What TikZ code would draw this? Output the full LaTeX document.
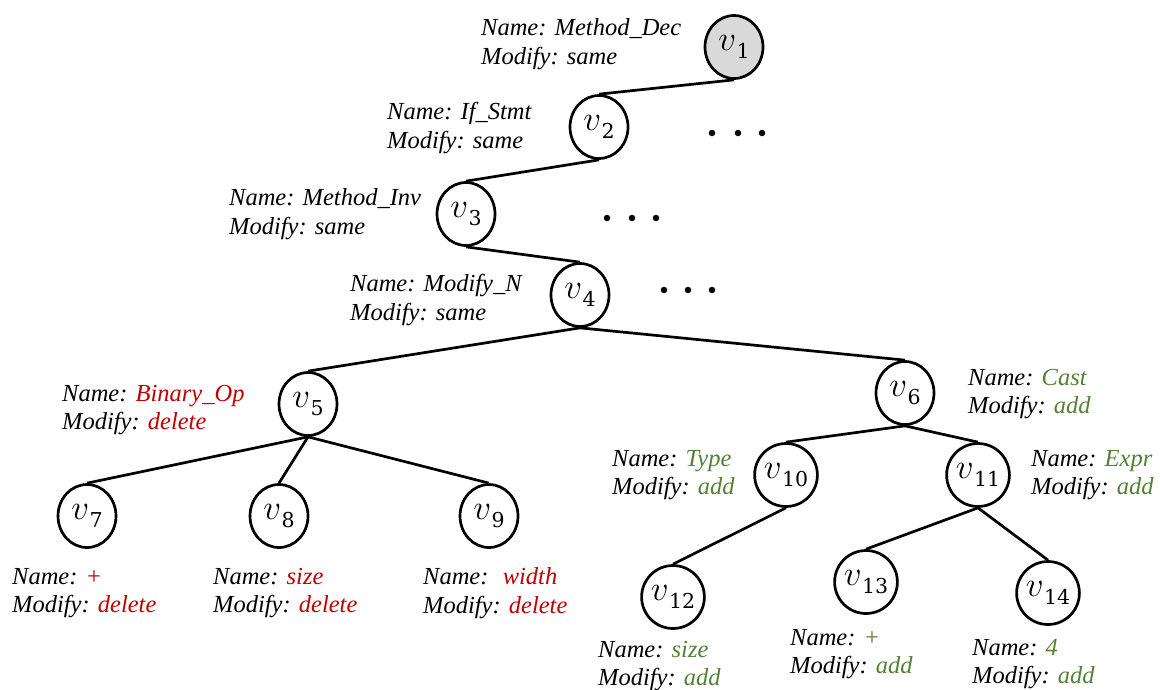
\RequirePackage{fix-cm}
\documentclass[tikz,border=0pt]{standalone}
\usepackage{fontspec}
\usetikzlibrary{shapes.geometric}
\setmainfont{Liberation Serif}
\newfontfamily\subfont{DejaVu Serif}
\definecolor{delred}{HTML}{C00000}
\definecolor{addgreen}{HTML}{538135}
\definecolor{rootgray}{HTML}{D9D9D9}
\newcommand{\dl}[1]{\textcolor{delred}{#1}}
\newcommand{\ad}[1]{\textcolor{addgreen}{#1}}
% vertex name: italic v with a lowered index
\newcommand{\vname}[1]{$v$\kern0.5pt\raisebox{-7.5pt}{\fontsize{20.5}{20.5}\selectfont\subfont #1}}
\tikzset{
  vnode/.style={ellipse, draw, line width=2.7pt, minimum width=58pt, minimum height=63pt,
                inner sep=0pt, font=\fontsize{35}{37}\selectfont},
  treeedge/.style={line width=2.7pt},
  lbl/.style={anchor=west, align=left, inner sep=0pt,
              font=\fontsize{24.5}{28.5}\selectfont\itshape},
  dotmark/.style={circle, fill, inner sep=0pt, minimum size=6.5pt}
}
\begin{document}
\begin{tikzpicture}[x=1pt,y=-1pt]
\useasboundingbox (0,0) rectangle (1160,689);

% tree nodes
\node[vnode, fill=rootgray] (v1) at (734,47) {\vname{1}};
\node[vnode] (v2) at (599,127) {\vname{2}};
\node[vnode] (v3) at (466,214) {\vname{3}};
\node[vnode] (v4) at (580,295) {\vname{4}};
\node[vnode] (v5) at (308,404) {\vname{5}};
\node[vnode] (v6) at (905,393) {\vname{6}};
\node[vnode] (v7) at (87,516) {\vname{7}};
\node[vnode] (v8) at (279,516) {\vname{8}};
\node[vnode] (v9) at (489,516) {\vname{9}};
\node[vnode] (v10) at (786,475) {\vname{10}};
\node[vnode] (v11) at (978,475) {\vname{11}};
\node[vnode] (v12) at (673,597) {\vname{12}};
\node[vnode] (v13) at (866,582) {\vname{13}};
\node[vnode] (v14) at (1048,593) {\vname{14}};

% edges
\draw[treeedge] (v1.south) -- (v2.north);
\draw[treeedge] (v2.south) -- (v3.north);
\draw[treeedge] (v3.south) -- (v4.north);
\draw[treeedge] (v4.south) -- (v5.north);
\draw[treeedge] (v4.south) -- (v6.north);
\draw[treeedge] (v5.south) -- (v7.north);
\draw[treeedge] (v5.south) -- (v8.north);
\draw[treeedge] (v5.south) -- (v9.north);
\draw[treeedge] (v6.south) -- (v10.north);
\draw[treeedge] (v6.south) -- (v11.north);
\draw[treeedge] (v10.south) -- (v12.north);
\draw[treeedge] (v11.south) -- (v13.north);
\draw[treeedge] (v11.south) -- (v14.north);

% elided siblings
\foreach \x [count=\i] in {712,738,762} \node[dotmark] (da\i) at (\x,133) {};
\foreach \x [count=\i] in {607,632,656} \node[dotmark] (db\i) at (\x,218) {};
\foreach \x [count=\i] in {664,688,712} \node[dotmark] (dc\i) at (\x,290) {};

% node attributes
\node[lbl] (l1) at (481,44) {Name: Method\_Dec\\Modify: same};
\node[lbl] (l2) at (387,128) {Name: If\_Stmt\\Modify: same};
\node[lbl] (l3) at (229,214) {Name: Method\_Inv\\Modify: same};
\node[lbl] (l4) at (350,300) {Name: Modify\_N\\Modify: same};
\node[lbl] (l5) at (62,410) {Name: \dl{Binary\_Op}\\Modify: \dl{delete}};
\node[lbl] (l6) at (968,394) {Name: \ad{Cast}\\Modify: \ad{add}};
\node[lbl] (l7) at (12,593) {Name: \dl{+}\\Modify: \dl{delete}};
\node[lbl] (l8) at (213,593) {Name: \dl{size}\\Modify: \dl{delete}};
\node[lbl] (l9) at (423,593) {Name: \ \dl{width}\\Modify: \dl{delete}};
\node[lbl] (l10) at (612,475) {Name: \ad{Type}\\Modify: \ad{add}};
\node[lbl] (l11) at (1031,475) {Name: \ad{Expr}\\Modify: \ad{add}};
\node[lbl] (l12) at (598,666) {Name: \ad{size}\\Modify: \ad{add}};
\node[lbl] (l13) at (790,654) {Name: \ad{+}\\Modify: \ad{add}};
\node[lbl] (l14) at (972,664) {Name: \ad{4}\\Modify: \ad{add}};
\end{tikzpicture}
\end{document}
